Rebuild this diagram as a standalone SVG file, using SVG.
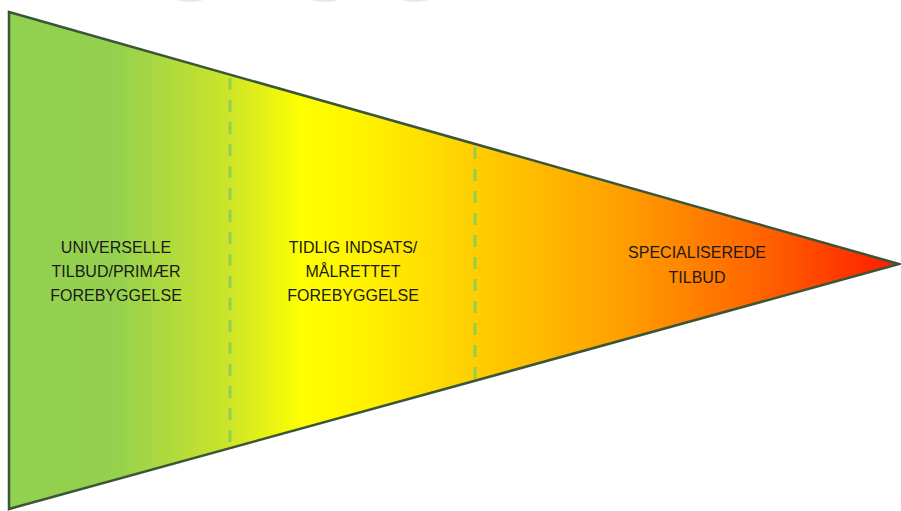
<svg xmlns="http://www.w3.org/2000/svg" width="901" height="511" viewBox="0 0 901 511">
  <defs>
    <linearGradient id="funnelGrad" gradientUnits="userSpaceOnUse" x1="9" y1="0" x2="899" y2="0">
      <stop offset="0" stop-color="#92d050"/>
      <stop offset="0.12" stop-color="#95d14e"/>
      <stop offset="0.245" stop-color="#cce42a"/>
      <stop offset="0.33" stop-color="#ffff00"/>
      <stop offset="0.40" stop-color="#fff200"/>
      <stop offset="0.53" stop-color="#ffcc00"/>
      <stop offset="0.68" stop-color="#ffa200"/>
      <stop offset="0.85" stop-color="#ff6200"/>
      <stop offset="1" stop-color="#ff1a00"/>
    </linearGradient>
  </defs>
  <style>
    .divider { stroke: #92d050; stroke-width: 3; stroke-dasharray: 12 10; fill: none; }
    .label { font-family: "Liberation Sans", Arial, sans-serif; font-size: 16px; fill: #1a1a1a; text-anchor: middle; }
    .tab { fill: #e8e8e8; }
  </style>
  <rect width="901" height="511" fill="#ffffff"/>
  <g id="tabs">
    <ellipse class="tab" cx="190" cy="-4" rx="18" ry="6"/>
    <ellipse class="tab" cx="325" cy="-4" rx="18" ry="6"/>
    <ellipse class="tab" cx="415" cy="-4" rx="18" ry="6"/>
  </g>
  <g id="funnel">
    <polygon points="9,12 899,264 9,509" fill="url(#funnelGrad)" stroke="#3b5636" stroke-width="2.5" stroke-linejoin="miter"/>
  </g>
  <g id="connectors">
    <line class="divider" x1="230" y1="78" x2="230" y2="452"/>
    <line class="divider" x1="475" y1="147" x2="475" y2="384"/>
  </g>
  <g id="universelle">
    <text class="label" x="116" y="253">UNIVERSELLE</text>
    <text class="label" x="116" y="277">TILBUD/PRIMÆR</text>
    <text class="label" x="116" y="301">FOREBYGGELSE</text>
  </g>
  <g id="tidlig">
    <text class="label" x="353" y="253">TIDLIG INDSATS/</text>
    <text class="label" x="353" y="277">MÅLRETTET</text>
    <text class="label" x="353" y="301">FOREBYGGELSE</text>
  </g>
  <g id="specialiserede">
    <text class="label" x="697" y="258">SPECIALISEREDE</text>
    <text class="label" x="697" y="283">TILBUD</text>
  </g>
</svg>
